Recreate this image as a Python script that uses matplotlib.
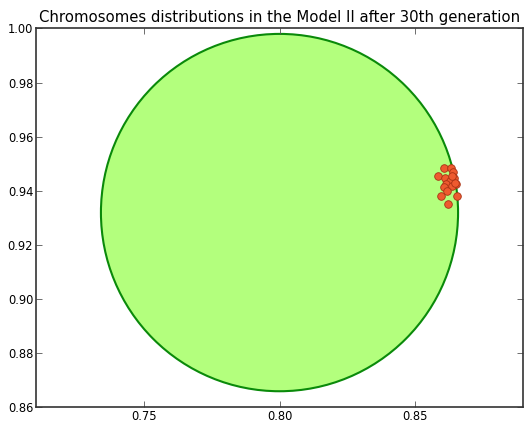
import matplotlib
matplotlib.use("Agg")
import matplotlib.pyplot as plt
from matplotlib.patches import Circle

# feasible region (circle) and chromosome positions after generation 30
circle_center = (0.80, 0.932)
circle_radius = 0.066

chrom_x = [0.8608, 0.8634, 0.8642, 0.8586, 0.8612, 0.8645, 0.8630, 0.8653, 0.8616,
           0.8638, 0.8608, 0.8619, 0.8597, 0.8656, 0.8623, 0.8649, 0.8638]
chrom_y = [0.9485, 0.9485, 0.9470, 0.9455, 0.9448, 0.9448, 0.9437, 0.9426, 0.9426,
           0.9418, 0.9414, 0.9400, 0.9381, 0.9381, 0.9352, 0.9430, 0.9455]

xticks = [0.75, 0.80, 0.85]
yticks = [0.86, 0.88, 0.90, 0.92, 0.94, 0.96, 0.98, 1.00]

fig = plt.figure(figsize=(5.24, 4.22), dpi=100)
ax = fig.add_axes([0.0687, 0.0344, 0.9294, 0.8981])

ax.add_patch(Circle(circle_center, circle_radius, facecolor="#b3ff7d",
                    edgecolor="#0a8a0a", linewidth=1.5, zorder=1))
ax.scatter(chrom_x, chrom_y, s=30, c="#ee5a2f", edgecolors="#a83214",
           linewidths=0.6, zorder=3)

ax.set_xlim(0.71, 0.89)
ax.set_ylim(0.86, 1.00)
ax.set_xticks(xticks)
ax.set_yticks(yticks)
ax.set_xticklabels([f"{v:.2f}" for v in xticks])
ax.set_yticklabels([f"{v:.2f}" for v in yticks])
ax.tick_params(direction="in", top=True, right=True, length=4, width=0.6,
               labelsize=8.3, pad=2, color="#555555")
ax.tick_params(axis="x", pad=1.5)
for sp in ax.spines.values():
    sp.set_linewidth(1.2)
    sp.set_color("#333333")

ax.set_title("Chromosomes distributions in the Model II after 30th generation",
             fontsize=10.7, pad=5)

fig.savefig("out.png", dpi=100)
